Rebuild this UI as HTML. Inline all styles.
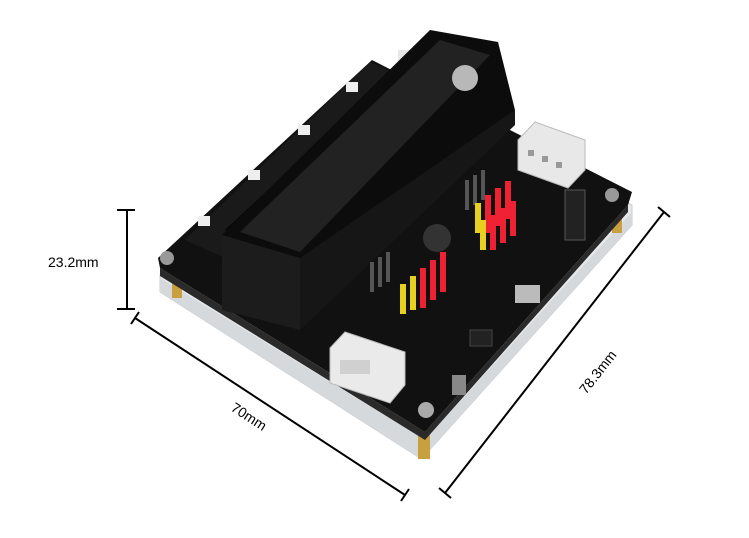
<!DOCTYPE html>
<html><head><meta charset="utf-8"><style>
html,body{margin:0;padding:0;background:#fff;}
svg{display:block}
text{font-family:"Liberation Sans",sans-serif;}
</style></head><body>
<svg width="749" height="538" viewBox="0 0 749 538" xmlns="http://www.w3.org/2000/svg">
<rect width="749" height="538" fill="#fff"/>
<!-- acrylic base -->
<polygon points="160,275 375,75 632,205 632,225 425,455 420,458 160,292" fill="#e6e8ea" stroke="#c9cccf"/>
<polygon points="160,292 420,458 425,455 632,225 632,212 425,440 160,278" fill="#d6d9dc"/>
<!-- standoffs -->
<rect x="172" y="268" width="10" height="30" fill="#c9a040"/>
<rect x="418" y="425" width="12" height="34" fill="#c9a040"/>
<rect x="612" y="205" width="10" height="28" fill="#c9a040"/>
<!-- PCB -->
<polygon points="158,258 372,60 632,192 628,205 425,432 160,268" fill="#111"/>
<polygon points="160,268 425,432 628,205 628,212 425,440 160,276" fill="#2a2a2a"/>
<!-- mounting screws -->
<circle cx="167" cy="258" r="7" fill="#999"/>
<circle cx="426" cy="410" r="8" fill="#aaa"/>
<circle cx="612" cy="195" r="7" fill="#999"/>
<!-- micro:bit slot strip -->
<polygon points="185,240 370,62 410,80 225,258" fill="#1a1a1a"/>
<polygon points="225,230 395,72 408,80 238,238" fill="#050505"/>
<rect x="398" y="50" width="14" height="14" fill="#e8e8e8"/>
<!-- white LEDs -->
<rect x="346" y="82" width="12" height="10" fill="#eee"/>
<rect x="298" y="125" width="12" height="10" fill="#eee"/>
<rect x="248" y="170" width="12" height="10" fill="#eee"/>
<rect x="198" y="216" width="12" height="10" fill="#eee"/>
<!-- battery holder -->
<polygon points="222,235 430,30 498,42 515,110 300,330 222,310" fill="#0c0c0c"/>
<polygon points="222,235 300,258 300,330 222,310" fill="#1c1c1c"/>
<polygon points="300,258 515,110 515,125 300,330" fill="#161616"/>
<polygon points="240,232 440,40 490,55 300,252" fill="#222"/>
<ellipse cx="465" cy="78" rx="13" ry="13" fill="#b8b8b8"/>
<!-- coil -->
<circle cx="437" cy="238" r="14" fill="#333"/>
<!-- black headers -->
<g fill="#555">
<rect x="465" y="180" width="4" height="30"/><rect x="473" y="175" width="4" height="30"/><rect x="481" y="170" width="4" height="30"/>
<rect x="370" y="262" width="4" height="30"/><rect x="378" y="257" width="4" height="30"/><rect x="386" y="252" width="4" height="30"/>
</g>
<!-- header pins -->
<g fill="#e23">
<rect x="485" y="195" width="6" height="38"/><rect x="495" y="188" width="6" height="38"/><rect x="505" y="181" width="6" height="38"/>
<rect x="490" y="215" width="6" height="35"/><rect x="500" y="208" width="6" height="35"/><rect x="510" y="201" width="6" height="35"/>
<rect x="420" y="268" width="6" height="40"/><rect x="430" y="260" width="6" height="40"/><rect x="440" y="252" width="6" height="40"/>
</g>
<g fill="#e8d020">
<rect x="475" y="203" width="6" height="30"/><rect x="480" y="220" width="6" height="30"/>
<rect x="410" y="276" width="6" height="34"/><rect x="400" y="284" width="6" height="30"/>
</g>
<!-- white connectors -->
<polygon points="518,140 535,122 585,140 585,170 568,188 518,170" fill="#e8e8e8" stroke="#bbb"/>
<g fill="#999"><rect x="528" y="150" width="6" height="6"/><rect x="542" y="156" width="6" height="6"/><rect x="556" y="162" width="6" height="6"/></g>
<polygon points="330,348 345,332 405,352 405,385 390,403 330,383" fill="#eaeaea" stroke="#bbb"/>
<rect x="340" y="360" width="30" height="14" fill="#d0d0d0"/>
<rect x="515" y="285" width="25" height="18" fill="#bbb"/>
<rect x="565" y="190" width="20" height="50" fill="#222" stroke="#555"/>
<rect x="452" y="375" width="14" height="20" fill="#888"/>
<rect x="470" y="330" width="22" height="16" fill="#222" stroke="#444"/>
<!-- dimension lines -->
<g stroke="#000" stroke-width="2" fill="none">
<line x1="127" y1="210" x2="127" y2="309"/>
<line x1="117" y1="210" x2="135" y2="210"/>
<line x1="117" y1="309" x2="135" y2="309"/>
<line x1="135" y1="318" x2="405" y2="495"/>
<line x1="131" y1="324" x2="139" y2="312"/>
<line x1="401" y1="501" x2="409" y2="489"/>
<line x1="445" y1="493" x2="664" y2="212"/>
<line x1="439" y1="488" x2="451" y2="498"/>
<line x1="658" y1="207" x2="670" y2="217"/>
</g>
<text x="48" y="267" font-size="14" fill="#000">23.2mm</text>
<text x="0" y="0" font-size="14" fill="#000" transform="translate(230,410) rotate(33)">70mm</text>
<text x="0" y="0" font-size="14" fill="#000" transform="translate(586,395) rotate(-52)">78.3mm</text>
</svg>
</body></html>
